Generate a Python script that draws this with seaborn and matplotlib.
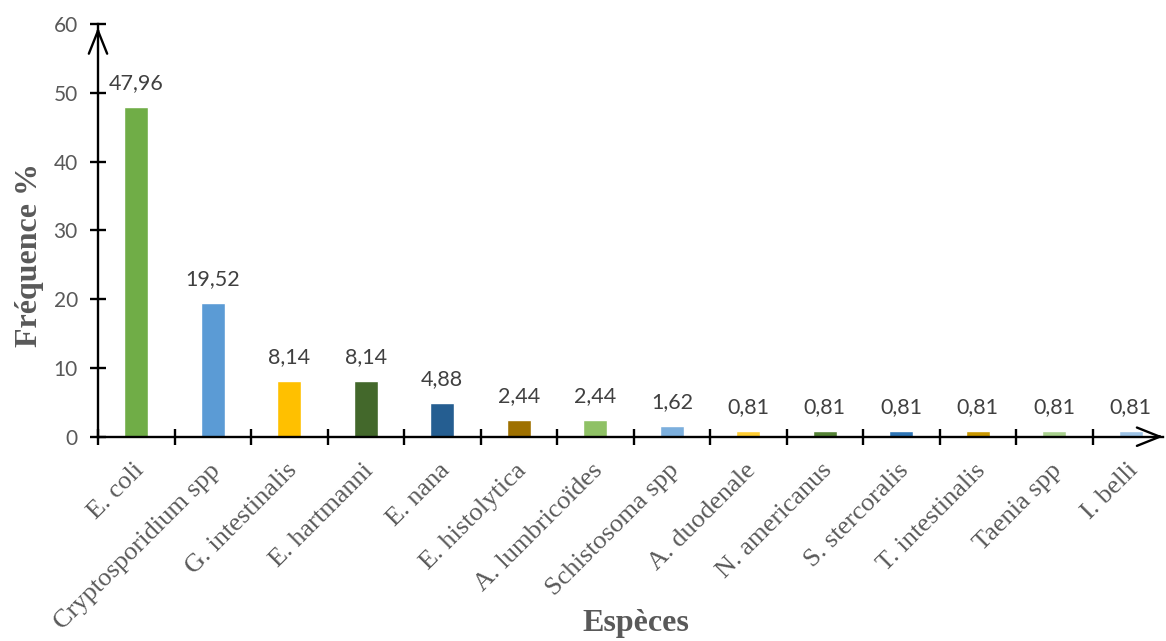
import matplotlib
matplotlib.use("Agg")
import matplotlib.pyplot as plt
import matplotlib.transforms as mtransforms
import seaborn as sns
import pandas as pd

# Species and their frequency (%)
species = [
    "E. coli", "Cryptosporidium spp", "G. intestinalis", "E. hartmanni",
    "E. nana", "E. histolytica", "A. lumbricoïdes", "Schistosoma spp",
    "A. duodenale", "N. americanus", "S. stercoralis", "T. intestinalis",
    "Taenia spp", "I. belli",
]
frequency = [47.96, 19.52, 8.14, 8.14, 4.88, 2.44, 2.44, 1.62,
             0.81, 0.81, 0.81, 0.81, 0.81, 0.81]
bar_colors = [
    "#70AD47", "#5B9BD5", "#FFC000", "#43682B", "#255E91", "#9E7000",
    "#8FC165", "#7CAFDD", "#FFCD33", "#548235", "#2E75B6", "#C99700",
    "#A9D18E", "#9DC3E6",
]
y_ticks = [0, 10, 20, 30, 40, 50, 60]

df = pd.DataFrame({"Espèces": species, "Fréquence": frequency})

sns.set_theme(style="white")
plt.rcParams["font.family"] = ["Lato", "DejaVu Sans"]

fig = plt.figure(figsize=(11.66, 6.41), dpi=100)
W, H = 1166, 641
left, right, bottom, top = 98, 1163, 436.7, 24.3
ax = fig.add_axes([left / W, 1 - bottom / H, (right - left) / W, (bottom - top) / H])

sns.barplot(data=df, x="Espèces", y="Fréquence", hue="Espèces",
            palette=bar_colors, width=0.31, legend=False, saturation=1, ax=ax)

ax.set_xlim(-0.5, len(species) - 1 + 0.42)
ax.set_ylim(0, 60)
ax.set_yticks(y_ticks)

# Value labels above bars with decimal comma
for cont in ax.containers:
    vals = [rect.get_height() for rect in cont]
    ax.bar_label(cont, labels=[f"{v:.2f}".replace(".", ",") for v in vals],
                 padding=10, fontsize=15.5, color="#404040",
                 family=["Lato", "DejaVu Sans"])

# Axis spines
for s in ["top", "right"]:
    ax.spines[s].set_visible(False)
for s in ["left", "bottom"]:
    ax.spines[s].set_color("black")
    ax.spines[s].set_linewidth(1.7)

# Ticks crossing the axes; category separators as minor ticks
ax.tick_params(axis="y", which="major", direction="inout", length=11, width=1.7,
               color="black", labelsize=15, labelcolor="#595959", pad=9, left=True)
ax.set_xticks([i + 0.5 for i in range(-1, len(species) - 1)], minor=True)
ax.tick_params(axis="x", which="minor", direction="inout", length=11, width=1.7,
               color="black", bottom=True)
ax.tick_params(axis="x", which="major", length=0, pad=22)
shift = mtransforms.ScaledTranslation(4 / 100, 0, fig.dpi_scale_trans)
for lab in ax.get_xticklabels():
    lab.set_rotation(45)
    lab.set_ha("right")
    lab.set_va("center")
    lab.set_rotation_mode("anchor")
    lab.set_fontfamily("Liberation Serif")
    lab.set_fontsize(19)
    lab.set_color("#595959")
    lab.set_transform(lab.get_transform() + shift)

# Open arrowheads at the ends of the axes
arrow = dict(arrowstyle="->,head_length=0.75,head_width=0.3", lw=1.7, color="black",
             shrinkA=0, shrinkB=0, mutation_scale=22)
ax.annotate("", xy=(0, 0.992), xytext=(0, 0.98), xycoords="axes fraction",
            textcoords="axes fraction", arrowprops=arrow)
ax.annotate("", xy=(1.0, 0), xytext=(0.995, 0), xycoords="axes fraction",
            textcoords="axes fraction", arrowprops=arrow)

ax.set_ylabel("Fréquence %", fontfamily="Liberation Serif", fontweight="bold",
              fontsize=23, color="#595959")
ax.yaxis.set_label_coords(-0.064, 0.44)
ax.yaxis.label.set_va("center")
ax.set_xlabel("Espèces", fontfamily="Liberation Serif", fontweight="bold",
              fontsize=23, color="#595959")
ax.xaxis.set_label_coords(0.505, -0.454)
ax.xaxis.label.set_va("center")

fig.savefig("out.png", dpi=100)
